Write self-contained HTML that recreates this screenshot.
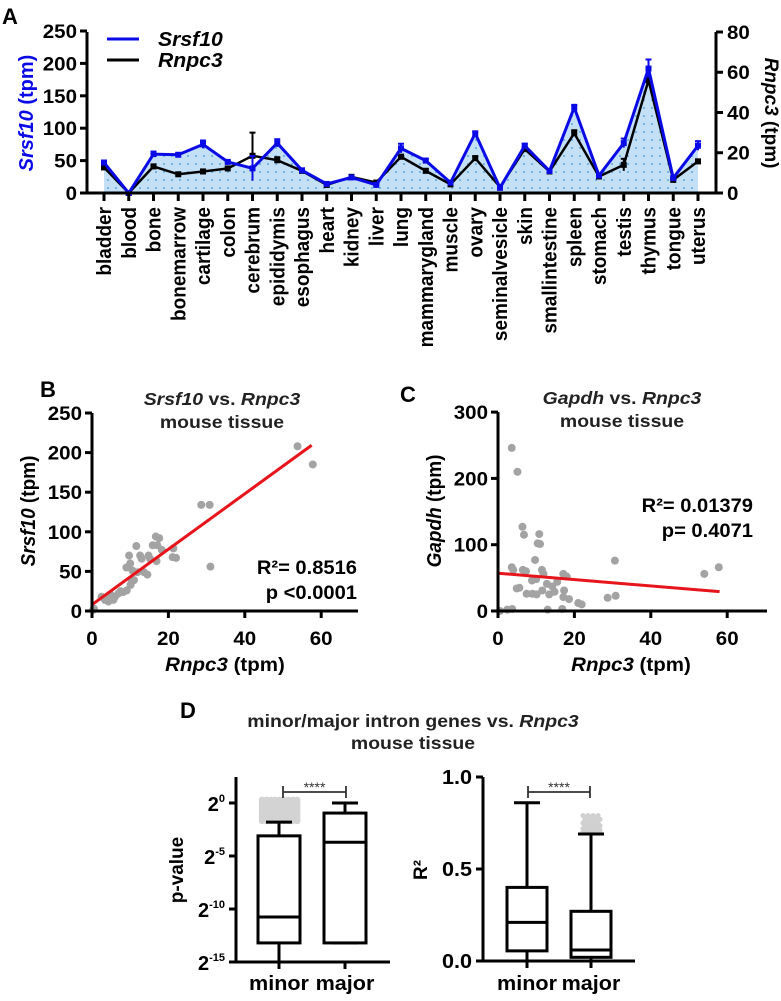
<!DOCTYPE html>
<html><head><meta charset="utf-8">
<style>
html,body{margin:0;padding:0;background:#fff;}
svg{display:block;font-family:"Liberation Sans",Arial,sans-serif;font-weight:bold;}
</style></head>
<body>
<svg id="fig" width="781" height="1001" viewBox="0 0 781 1001" xmlns="http://www.w3.org/2000/svg">
<defs>
<pattern id="dots" width="8" height="8" patternUnits="userSpaceOnUse">
<rect width="8" height="8" fill="#c4e0f7"/>
<circle cx="4" cy="4" r="0.9" fill="#3f95d4"/>
</pattern>
</defs>
<g id="pA"></g>
<g id="pB"></g>
<g id="pC"></g>
<g id="pD"></g>
</svg>
<script>
// ---------- Panel A data ----------
const tissues = ["bladder","blood","bone","bonemarrow","cartilage","colon","cerebrum","epididymis","esophagus","heart","kidney","liver","lung","mammarygland","muscle","ovary","seminalvesicle","skin","smallintestine","spleen","stomach","testis","thymus","tongue","uterus"];
const srsf10 = [47,0,60,59,75,48,38,77,35,14,24,12.5,69,50,16,92,8,73,34,132,27,77,192,23,73];
const srsf10Err = [3,0,4,2,6,2,19,6,2,1,2,1,7,3,1,3,1,3,1,4,2,7,14,2,7];
const rnpc3 = [12.7,0,13.2,9.3,10.7,12.2,18.5,16.3,11,4,8,5.2,18,11,4.3,17.3,3,21.8,10.7,29.7,8.2,14,56,6.5,15.7];
const rnpc3Err = [1,0,1,0.5,1,0.5,11.5,1.5,0.5,0.5,1,0.5,1,1,0.5,1,0.5,1,0.5,1.5,0.5,3,2,0.5,1];
const leftTicksA = [0,50,100,150,200,250];
const rightTicksA = [0,20,40,60,80];
// ---------- Panel B data ----------
const bX = [0.3,0.5,2.5,3.4,4.3,4.7,5.6,6.0,6.9,8.2,9.1,9.0,9.7,10,10.1,10.4,10.6,11,11.6,11.9,12.6,13,13.6,14.5,14.8,15.2,15.9,16.7,17.6,17.1,16.9,18.3,21.3,21.1,22,28.6,30.8,31,53.8,57.8,4,5,7.5];
const bY = [1.3,3,18,14,12,17,14,18,22,24,26,55,70,60,33,37,51,39,82,49,70,66,49,46,70,66,83,94,92,83,63,77,79,68,67,134,134,56,208,185,16,20,25];
const bFit = [8,3.5];
const bYTicks = [0,50,100,150,200,250];
const bXTicks = [0,20,40,60];
// ---------- Panel C data ----------
const cX = [3.6,5.1,6.4,6.8,10.8,10.4,11,9.7,3.6,4,6.5,7.3,11.5,11.9,17.1,18,4.9,5.6,7.5,9,10.1,11.6,13.4,14.8,17.3,17.1,18.6,21,21.9,13,16.8,0.5,2.4,3.7,30.6,28.7,30.8,8.9,10,12.8,14.2,15.5,54,57.8];
const cY = [246,210,127,115,116,102,101,77,66,62,62,60,62,56,56,52,34,35,26,26,25,31,25,29,31,21,18,12,10,2,3,0,2,3,76,20,23,46,48,41,37,44,56,66];
const cFit = [57,-0.48];
const cYTicks = [0,100,200,300];
const cXTicks = [0,20,40,60];
// ---------- Panel D data ----------
const dGroups = ["minor","major"];
const pMin = [-15,-13.2];
const pQ1 = [-13.2,-13.2];
const pMed = [-10.75,-3.7];
const pQ3 = [-3.1,-0.95];
const pMax = [-1.8,0];
const pOutMinor = [-1.7,-1.5,-1.3,-1.1,-0.9,-0.7,-0.5,-0.3,-0.1,0.1,0.3];
const pTicks = [0,-5,-10,-15];
const rMin = [0,0];
const rQ1 = [0.055,0.02];
const rMed = [0.21,0.06];
const rQ3 = [0.40,0.27];
const rMax = [0.86,0.69];
const rOutMajor = [0.70,0.71,0.72,0.735,0.75,0.77,0.79];
const rTicks = [0,0.5,1.0];

const NS = "http://www.w3.org/2000/svg";
function mk(parent, tag, attrs, text){
  const e = document.createElementNS(NS, tag);
  for (const k in attrs) e.setAttribute(k, attrs[k]);
  if (text !== undefined) e.textContent = text;
  parent.appendChild(e);
  return e;
}
// horizontally widen text slightly (reference text is stretched)
function wide(el, x, y, s){
  el.setAttribute('transform','translate('+x+','+y+') scale('+s+',1) translate('+(-x)+','+(-y)+')');
}

// ================= Panel A =================
(function(){
  const g = document.getElementById('pA');
  const xA = i => 104 + i*24.75;
  const yL = v => 193 - v*0.648;
  const yR = v => 193 - v*2.0125;
  let t = mk(g,'text',{x:2,y:24,'font-size':22});
  t.textContent='A';
  
  
  let d = 'M'+xA(0)+','+yL(0);
  srsf10.forEach((v,i)=>{ d += ' L'+xA(i)+','+yL(v); });
  d += ' L'+xA(srsf10.length-1)+','+yL(0)+' Z';
  let area = mk(g,'path',{d:d,fill:'url(#dots)'});
  
  
  let lb = mk(g,'polyline',{points:rnpc3.map((v,i)=>xA(i)+','+yR(v)).join(' '),fill:'none',stroke:'#000','stroke-width':2.5});
  
  
  rnpc3.forEach((v,i)=>{
    let e = mk(g,'line',{x1:xA(i),x2:xA(i),y1:yR(v+rnpc3Err[i]),y2:yR(Math.max(0,v-rnpc3Err[i])),stroke:'#000','stroke-width':2});
    
    
    mk(g,'line',{x1:xA(i)-3,x2:xA(i)+3,y1:yR(v+rnpc3Err[i]),y2:yR(v+rnpc3Err[i]),stroke:'#000','stroke-width':2});
    let m = mk(g,'rect',{x:xA(i)-3,y:yR(v)-3,width:6,height:6,fill:'#000'});
    
    
  });
  let lbl = mk(g,'polyline',{points:srsf10.map((v,i)=>xA(i)+','+yL(v)).join(' '),fill:'none',stroke:'#0a0ae6','stroke-width':3});
  
  
  srsf10.forEach((v,i)=>{
    let e = mk(g,'line',{x1:xA(i),x2:xA(i),y1:yL(v+srsf10Err[i]),y2:yL(Math.max(0,v-srsf10Err[i])),stroke:'#0a0ae6','stroke-width':2});
    
    
    mk(g,'line',{x1:xA(i)-3,x2:xA(i)+3,y1:yL(v+srsf10Err[i]),y2:yL(v+srsf10Err[i]),stroke:'#0a0ae6','stroke-width':2});
    let m = mk(g,'rect',{x:xA(i)-3,y:yL(v)-3,width:6,height:6,fill:'#0a0ae6'});
    
    
  });
  let ax = mk(g,'path',{d:'M87,32 L87,193 L716,193 L716,32',fill:'none',stroke:'#000','stroke-width':3});
  
  
  leftTicksA.forEach(v=>{
    mk(g,'line',{x1:80,x2:87,y1:yL(v),y2:yL(v),stroke:'#000','stroke-width':3});
    let tl = mk(g,'text',{x:77,y:yL(v)+7,'font-size':19,'text-anchor':'end'},v);
    wide(tl,77,yL(v)+7,1.08);
    
    
  });
  rightTicksA.forEach(v=>{
    mk(g,'line',{x1:716,x2:723,y1:yR(v),y2:yR(v),stroke:'#000','stroke-width':3});
    let tl = mk(g,'text',{x:727,y:yR(v)+7,'font-size':19},v);
    wide(tl,727,yR(v)+7,1.08);
    
    
  });
  tissues.forEach((n,i)=>{
    mk(g,'line',{x1:xA(i),x2:xA(i),y1:193,y2:201,stroke:'#000','stroke-width':3});
    let tl = mk(g,'text',{x:0,y:0,'font-size':19,'text-anchor':'end',transform:'translate('+(xA(i)+7)+',207) rotate(-90) scale(1,1.08)'},n);
    
    
  });
  let yt = mk(g,'text',{x:0,y:0,'font-size':20,fill:'#0a0ae6','text-anchor':'middle',transform:'translate(33,113) rotate(-90)'});
  yt.innerHTML='<tspan font-style="italic">Srsf10</tspan> (tpm)';
  
  
  let yt2 = mk(g,'text',{x:0,y:0,'font-size':19,'text-anchor':'middle',transform:'translate(765,113) rotate(90)'});
  yt2.innerHTML='<tspan font-style="italic">Rnpc3</tspan> (tpm)';
  
  
  let lg1 = mk(g,'line',{x1:107,x2:139,y1:39,y2:39,stroke:'#0a0ae6','stroke-width':3});
  
  
  let lt1 = mk(g,'text',{x:158,y:46,'font-size':20,'font-style':'italic'},'Srsf10');
  wide(lt1,158,46,1.06);
  
  
  let lg2 = mk(g,'line',{x1:107,x2:139,y1:60,y2:60,stroke:'#000','stroke-width':3});
  
  
  let lt2 = mk(g,'text',{x:158,y:67,'font-size':20,'font-style':'italic'},'Rnpc3');
  wide(lt2,158,67,1.06);
  
  
})();

// ================= Scatter helper =================
function scatter(g, opt){
  const X = v => opt.x0 + v*opt.sx;
  const Y = v => opt.y0 - v*opt.sy;
  let lab = mk(g,'text',{x:opt.lx,y:opt.ly,'font-size':22},opt.letter);
  
  
  let t1 = mk(g,'text',{x:opt.tx,y:opt.ty,'font-size':18,'text-anchor':'middle',fill:'#222'});
  t1.innerHTML='<tspan font-style="italic">'+opt.gene+'</tspan> vs. <tspan font-style="italic">Rnpc3</tspan>';
  wide(t1,opt.tx,opt.ty,1.08);
  
  
  let t2 = mk(g,'text',{x:opt.tx,y:opt.ty+23,'font-size':18,'text-anchor':'middle',fill:'#222'},'mouse tissue');
  wide(t2,opt.tx,opt.ty+23,1.08);
  
  
  opt.xs.forEach((v,i)=>{
    let c = mk(g,'circle',{cx:X(v),cy:Y(opt.ys[i]),r:4,fill:'#a3a3a3'});
    
    
  });
  let fl = mk(g,'line',{x1:X(0),y1:Y(opt.fit[0]),x2:X(opt.fitEnd),y2:Y(opt.fit[0]+opt.fit[1]*opt.fitEnd),stroke:'#e8141b','stroke-width':3});
  
  
  let ax = mk(g,'path',{d:'M'+opt.x0+','+Y(opt.yTicks[opt.yTicks.length-1])+' L'+opt.x0+','+opt.y0+' L'+opt.xEnd+','+opt.y0,fill:'none',stroke:'#000','stroke-width':3});
  
  
  opt.yTicks.forEach(v=>{
    mk(g,'line',{x1:opt.x0-7,x2:opt.x0,y1:Y(v),y2:Y(v),stroke:'#000','stroke-width':3});
    let tl = mk(g,'text',{x:opt.x0-10,y:Y(v)+7,'font-size':19,'text-anchor':'end'},v);
    wide(tl,opt.x0-10,Y(v)+7,1.08);
    
    
  });
  opt.xTicks.forEach(v=>{
    mk(g,'line',{x1:X(v),x2:X(v),y1:opt.y0,y2:opt.y0+7,stroke:'#000','stroke-width':3});
    let tl = mk(g,'text',{x:X(v),y:opt.y0+34,'font-size':19,'text-anchor':'middle'},v);
    wide(tl,X(v),opt.y0+34,1.08);
    
    
  });
  let xt = mk(g,'text',{x:opt.x0+133,y:opt.y0+60,'font-size':19,'text-anchor':'middle'});
  xt.innerHTML='<tspan font-style="italic">Rnpc3</tspan> (tpm)';
  wide(xt,opt.x0+133,opt.y0+60,1.08);
  
  
  let ytt = mk(g,'text',{x:0,y:0,'font-size':19,'text-anchor':'middle',transform:'translate('+(opt.x0-57)+','+(opt.y0-100)+') rotate(-90) scale(1,1.08)'});
  ytt.innerHTML='<tspan font-style="italic">'+opt.gene+'</tspan> (tpm)';
  
  
  let r = mk(g,'text',{x:opt.rx,y:opt.ry,'font-size':19,'text-anchor':'end'},opt.r2);
  wide(r,opt.rx,opt.ry,1.06);
  
  
  let p = mk(g,'text',{x:opt.rx,y:opt.ry+25,'font-size':19,'text-anchor':'end'},opt.p);
  wide(p,opt.rx,opt.ry+25,1.06);
  
  
}
scatter(document.getElementById('pB'),{letter:'B',lx:40,ly:397,gene:'Srsf10',tx:222,ty:405,x0:92,y0:611,sx:3.82,sy:0.792,xEnd:358,
  xs:bX,ys:bY,fit:bFit,fitEnd:57.5,yTicks:bYTicks,xTicks:bXTicks,rx:357,ry:574,r2:'R²= 0.8516',p:'p <0.0001'});
scatter(document.getElementById('pC'),{letter:'C',lx:400,ly:402,gene:'Gapdh',tx:622,ty:404,x0:498,y0:611,sx:3.82,sy:0.663,xEnd:767,
  xs:cX,ys:cY,fit:cFit,fitEnd:58,yTicks:cYTicks,xTicks:cXTicks,rx:753,ry:512,r2:'R²= 0.01379',p:'p= 0.4071'});

// ================= Panel D =================
(function(){
  const g = document.getElementById('pD');
  let lab = mk(g,'text',{x:180,y:718,'font-size':22},'D');
  
  
  let t1 = mk(g,'text',{x:413,y:727,'font-size':18,'text-anchor':'middle',fill:'#222'});
  t1.innerHTML='minor/major intron genes vs. <tspan font-style="italic">Rnpc3</tspan>';
  wide(t1,413,727,1.08);
  
  
  let t2 = mk(g,'text',{x:413,y:749,'font-size':18,'text-anchor':'middle',fill:'#222'},'mouse tissue');
  wide(t2,413,749,1.08);
  
  

  function box(Y, cx, hw, mins, q1s, meds, q3s, maxs){
    dGroups.forEach((n,i)=>{
      const c = cx[i];
      let w = mk(g,'path',{d:'M'+c+','+Y(maxs[i])+' L'+c+','+Y(q3s[i])+' M'+c+','+Y(q1s[i])+' L'+c+','+Y(mins[i])+' M'+(c-13)+','+Y(maxs[i])+' L'+(c+13)+','+Y(maxs[i])+' M'+(c-13)+','+Y(mins[i])+' L'+(c+13)+','+Y(mins[i]),stroke:'#000','stroke-width':3,fill:'none'});
      
      
      let b = mk(g,'rect',{x:c-hw,y:Y(q3s[i]),width:2*hw,height:Y(q1s[i])-Y(q3s[i]),fill:'#fff',stroke:'#000','stroke-width':3});
      
      
      let m = mk(g,'line',{x1:c-hw,x2:c+hw,y1:Y(meds[i]),y2:Y(meds[i]),stroke:'#000','stroke-width':3});
      
      
      let xl = mk(g,'text',{x:c,y:990,'font-size':20,'text-anchor':'middle'},n);
      wide(xl,c,990,1.08);
      
      
    });
  }
  const YP = e => 803 - e*10.6;
  const cxL = [279,345];
  pOutMinor.forEach(v=>{
    for (let k=0;k<9;k++){
      let c = mk(g,'circle',{cx:262+k*4.4,cy:YP(v),r:3.2,fill:'#d3d3d3'});
      
      
    }
  });
  box(YP,cxL,21,pMin,pQ1,pMed,pQ3,pMax);
  let axL = mk(g,'path',{d:'M236,777 L236,962 L390,962',fill:'none',stroke:'#000','stroke-width':3});
  
  
  pTicks.forEach(e=>{
    mk(g,'line',{x1:229,x2:236,y1:YP(e),y2:YP(e),stroke:'#000','stroke-width':3});
    let tl = mk(g,'text',{x:225,y:YP(e)+8,'font-size':20,'text-anchor':'end'});
    tl.innerHTML='2<tspan font-size="11" dy="-9">'+(e===0?'0':e)+'</tspan>';
    
    
  });
  cxL.forEach(c=>mk(g,'line',{x1:c,x2:c,y1:962,y2:969,stroke:'#000','stroke-width':3}));
  let yl = mk(g,'text',{x:0,y:0,'font-size':19,'text-anchor':'middle',transform:'translate(183,870) rotate(-90)'},'p-value');
  
  
  const YR = v => 961 - v*184;
  const cxR = [527,591];
  rOutMajor.forEach((v,k)=>{
    [-8,-3,2,7].forEach(dx=>{
      let c = mk(g,'circle',{cx:cxR[1]+dx+(k%2)*2,cy:YR(v),r:2.6,fill:'#d0d0d0'});
      
      
    });
  });
  box(YR,cxR,20,rMin,rQ1,rMed,rQ3,rMax);
  let axR = mk(g,'path',{d:'M483,777 L483,961 L635,961',fill:'none',stroke:'#000','stroke-width':3});
  
  
  rTicks.forEach(v=>{
    mk(g,'line',{x1:476,x2:483,y1:YR(v),y2:YR(v),stroke:'#000','stroke-width':3});
    let tl = mk(g,'text',{x:472,y:YR(v)+7,'font-size':20,'text-anchor':'end'},v.toFixed(1));
    wide(tl,472,YR(v)+7,1.08);
    
    
  });
  cxR.forEach(c=>mk(g,'line',{x1:c,x2:c,y1:961,y2:968,stroke:'#000','stroke-width':3}));
  let yl2 = mk(g,'text',{x:0,y:0,'font-size':19,'text-anchor':'middle',transform:'translate(427,870) rotate(-90)'},'R²');
  
  
  [[283,346],[528,590]].forEach(br=>{
    let p = mk(g,'path',{d:'M'+br[0]+',798 L'+br[0]+',786 M'+br[0]+',792 L'+br[1]+',792 M'+br[1]+',786 L'+br[1]+',798',stroke:'#333','stroke-width':1.8,fill:'none'});
    
    
    let s = mk(g,'text',{x:(br[0]+br[1])/2,y:792,'font-size':14,'text-anchor':'middle',fill:'#333','font-weight':'normal'},'****');
    
    
  });
})();
</script>
</body></html>
